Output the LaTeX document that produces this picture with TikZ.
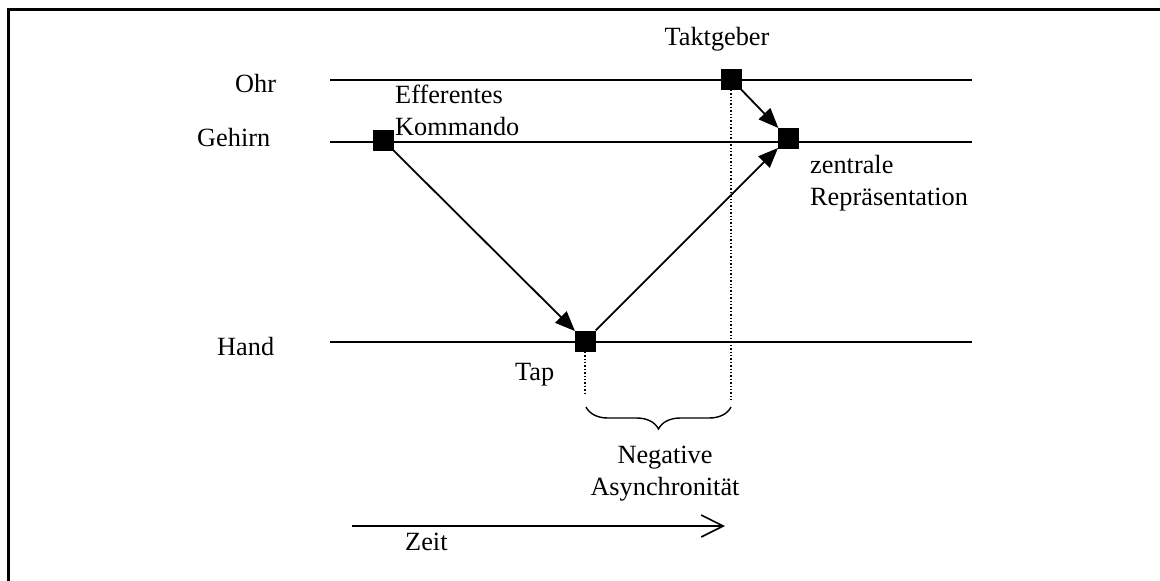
\documentclass[tikz,border=0pt]{standalone}
\usepackage{fontspec}
\setmainfont{Liberation Serif}
\usetikzlibrary{arrows.meta,decorations.pathreplacing}
\begin{document}
\begin{tikzpicture}[x=1pt,y=-1pt,
  every node/.style={font=\fontsize{26.3}{32}\selectfont, inner sep=0pt},
  event/.style={fill=black, minimum size=21pt, inner sep=0pt},
  track/.style={line width=2.4pt},
  signal/.style={line width=1.8pt, -{Triangle[length=20pt,width=16pt]}, shorten >=-1pt},
  guide/.style={line width=1.4pt, dotted},
  lbl/.style={anchor=base west, align=left}]
\useasboundingbox (0,0) rectangle (1160,581);
% frame (top and left edges)
\draw[line width=3pt] (8,581) -- (8,9) -- (1160,9);

% time lines
\coordinate (ohrA) at (330,80);  \coordinate (ohrB) at (972,80);
\coordinate (gehA) at (330,142); \coordinate (gehB) at (972,142);
\coordinate (hanA) at (330,342); \coordinate (hanB) at (972,342);
\draw[track] (ohrA) -- (ohrB);
\draw[track] (gehA) -- (gehB);
\draw[track] (hanA) -- (hanB);

% row labels
\node[lbl] (lohr) at (235,92) {Ohr};
\node[lbl] (lgeh) at (197,146) {Gehirn};
\node[lbl] (lhan) at (217,355) {Hand};

% events
\node[event] (cmd)  at (383,140) {};
\node[event] (tick) at (731,79) {};
\node[event] (rep)  at (788,138) {};
\node[event] (tap)  at (585,341) {};

% event labels (base anchor = baseline of the last line)
\node[anchor=base] (ltick) at (717,45) {Taktgeber};
\node[lbl] (lcmd) at (395,135) {Efferentes\\Kommando};
\node[lbl] (lrep) at (810,205) {zentrale\\Repräsentation};
\node[lbl] (ltap) at (515,380) {Tap};

% signal flow
\draw[signal] (cmd) -- (tap);
\draw[signal] (tap) -- (rep);
\draw[signal] (tick) -- (rep);

% asynchrony marker
\coordinate (tapEnd)  at (585,395);
\coordinate (tickEnd) at (731,400);
\draw[guide] (tap.south) -- (tapEnd);
\draw[guide] (tick.south) -- (tickEnd);
\coordinate (brR) at (731,407);
\coordinate (brL) at (586,407);
\draw[line width=1.4pt, decorate, decoration={brace, amplitude=22pt}] (brR) -- (brL);
\node[anchor=base, align=center] (lasy) at (665,495) {Negative\\Asynchronität};

% time axis
\coordinate (t0) at (352,526);
\coordinate (t1) at (725,526);
\draw[line width=1.6pt, -{Straight Barb[length=22pt,width=22pt,line width=1.6pt]}] (t0) -- (t1);
\node[lbl] (lzeit) at (405,550) {Zeit};
\end{tikzpicture}
\end{document}
